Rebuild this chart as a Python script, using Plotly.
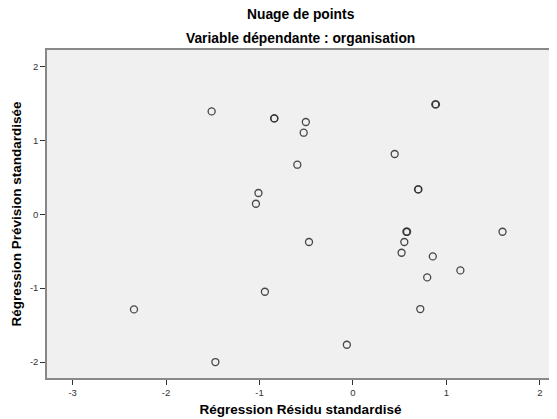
import plotly.graph_objects as go

# Standardized residual (x) and standardized predicted value (y)
residu = [-1.512, -0.843, -0.840, -0.504, -0.527, 0.881, 0.889, 0.447, -0.595,
          -1.011, -1.038, 0.697, 0.701, 0.572, 0.580, 1.601, -0.470, 0.550,
          0.521, 0.855, 1.150, 0.795, -2.343, -0.942, 0.721, -1.472, -0.065]
prevision = [1.391, 1.296, 1.296, 1.248, 1.103, 1.486, 1.486, 0.815, 0.670,
             0.287, 0.142, 0.336, 0.336, -0.237, -0.237, -0.237, -0.376, -0.376,
             -0.521, -0.571, -0.760, -0.855, -1.288, -1.049, -1.283, -2.000, -1.766]

x_ticks = [-3, -2, -1, 0, 1, 2]
y_ticks = [-2, -1, 0, 1, 2]

FONT = "Liberation Sans, Arial, sans-serif"

fig = go.Figure()
fig.add_trace(go.Scatter(
    x=residu, y=prevision, mode="markers",
    marker=dict(symbol="circle-open", size=7, color="rgba(40,40,40,0.85)",
                line=dict(width=1.3, color="rgba(40,40,40,0.85)")),
    hoverinfo="skip", showlegend=False,
))

# page body has an 8px margin; figure sized/offset to compensate
fig.update_layout(
    width=549, height=411,
    margin=dict(l=39, r=1, t=42, b=41),
    paper_bgcolor="white", plot_bgcolor="#f0f0f0",
    font=dict(family=FONT, color="#000"),
    annotations=[
        dict(text="<b>Nuage de points</b>", x=0.5, y=1, xref="paper", yref="paper",
             yanchor="middle", yshift=36, showarrow=False, font=dict(size=13.8)),
        dict(text="<b>Variable dépendante : organisation</b>", xref="paper", yref="paper",
             x=0.5, y=1, yanchor="middle", yshift=12, showarrow=False, font=dict(size=13.8)),
    ],
)

fig.update_xaxes(
    range=[-3.274, 2.152], tickvals=x_ticks, ticktext=[str(v) for v in x_ticks],
    ticks="outside", ticklen=5, tickwidth=1, tickcolor="#333",
    tickfont=dict(size=9.5, color="#333"),
    showgrid=False, zeroline=False,
    showline=True, linecolor="#888", linewidth=1.5, mirror=True,
    title=dict(text="<b>Régression Résidu standardisé</b>", font=dict(size=13.5), standoff=7),
)
fig.update_yaxes(
    range=[-2.216, 2.222], tickvals=y_ticks, ticktext=[str(v) for v in y_ticks],
    ticks="outside", ticklen=5, tickwidth=1, tickcolor="#333",
    tickfont=dict(size=9.5, color="#333"),
    showgrid=False, zeroline=False,
    showline=True, linecolor="#888", linewidth=1.5, mirror=True,
    title=dict(text="<b>Régression Prévision standardisée</b>", font=dict(size=13.5), standoff=5),
)

fig.write_html("out.html")
